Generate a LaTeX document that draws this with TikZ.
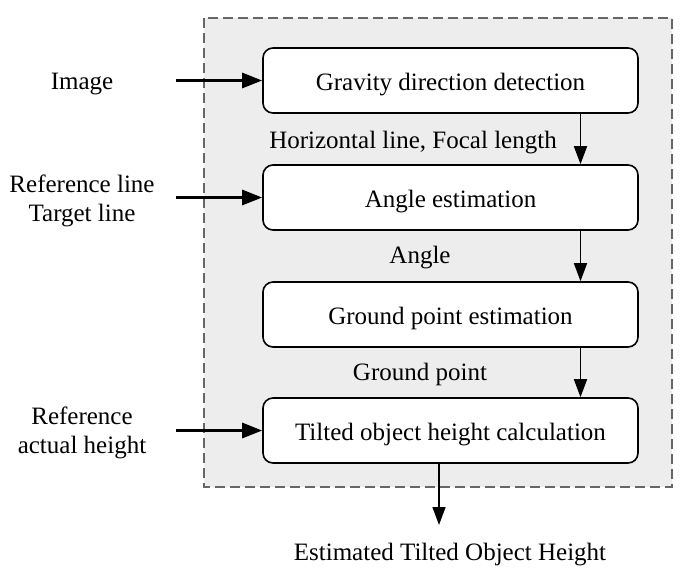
\documentclass[tikz,border=0pt]{standalone}
\usepackage{fontspec}
\setmainfont{Liberation Serif}
\usetikzlibrary{arrows.meta}
\begin{document}
\begin{tikzpicture}[x=1pt,y=-1pt,
  procbox/.style={draw=black,line width=1.6pt,fill=white,rounded corners=10pt,minimum width=375pt,minimum height=65pt,inner sep=0pt,text height=20pt,text depth=0pt,font=\fontsize{25}{29}\selectfont},
  lbl/.style={font=\fontsize{25}{29}\selectfont,inner sep=0pt,align=center},
  inarrow/.style={line width=2.8pt,-{Triangle[length=20pt,width=15pt]}},
  flowarrow/.style={line width=1.6pt,-{Triangle[length=18pt,width=13pt]}}]
\useasboundingbox (0,0) rectangle (684,571);
\draw[fill=black!7,draw=black!60,line width=1.4pt,dash pattern=on 10pt off 5pt] (204,18) rectangle (672,487);
\node[procbox] (b1) at (450.5,80.5) {Gravity direction detection};
\node[procbox] (b2) at (450.5,197.5) {Angle estimation};
\node[procbox] (b3) at (450.5,314.5) {Ground point estimation};
\node[procbox] (b4) at (450.5,430.5) {Tilted object height calculation};
\node[lbl] (l1) at (413,143) {Horizontal line, Focal length};
\node[lbl] (l2) at (420,258) {Angle};
\node[lbl] (l3) at (420,374) {Ground point};
\node[lbl] (i1) at (82,84) {Image};
\node[lbl] (i2) at (82,201) {Reference line\\Target line};
\node[lbl] (i3) at (82,433) {Reference\\actual height};
\node[lbl] (out) at (450,555) {Estimated Tilted Object Height};
\coordinate (s1) at (176,80.5);
\coordinate (s2) at (176,197.5);
\coordinate (s4) at (176,430.5);
\coordinate (e) at (439,525);
\draw[inarrow] (s1) -- (b1.west);
\draw[inarrow] (s2) -- (b2.west);
\draw[inarrow] (s4) -- (b4.west);
\draw[flowarrow] (b1.south -| 580.5,0) -- (b2.north -| 580.5,0);
\draw[flowarrow] (b2.south -| 580.5,0) -- (b3.north -| 580.5,0);
\draw[flowarrow] (b3.south -| 580.5,0) -- (b4.north -| 580.5,0);
\draw[flowarrow] (b4.south -| e) -- (e);
\end{tikzpicture}
\end{document}
